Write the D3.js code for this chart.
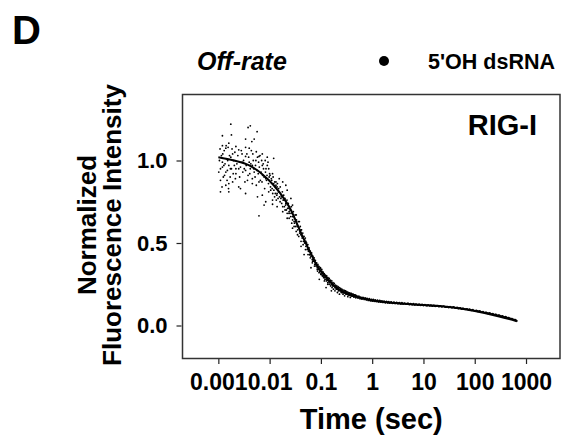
<!DOCTYPE html>
<html>
<head>
<meta charset="utf-8">
<script src="https://cdn.jsdelivr.net/npm/d3@7/dist/d3.min.js"></script>
<style>
body { margin: 0; background: #fff; }
svg text { font-family: "Liberation Sans", Arial, sans-serif; font-weight: bold; fill: #000; }
</style>
</head>
<body>
<svg width="566" height="446"></svg>
<script>
//////////// DATA ////////////

// axis ticks
var xTickValues = [0.001, 0.01, 0.1, 1, 10, 100, 1000];
var xTickLabels = ["0.001", "0.01", "0.1", "1", "10", "100", "1000"];
var yTickValues = [0, 0.5, 1];

// fitted off-rate curve, [time (sec), normalized intensity]
var fitCurve = [
  [0.001, 1.02], [0.002, 1.0], [0.004, 0.97], [0.007, 0.92], [0.012, 0.85],
  [0.02, 0.76], [0.026, 0.70], [0.035, 0.61], [0.047, 0.52], [0.065, 0.43],
  [0.087, 0.355], [0.12, 0.30], [0.158, 0.26], [0.25, 0.21], [0.39, 0.185],
  [0.7, 0.162], [1.7, 0.142], [5, 0.13], [35, 0.11], [100, 0.088],
  [300, 0.055], [660, 0.026]
];

// noisy early points (t < 0.01 s)
var earlyPoints = [
  [0.00175, 1.22], [0.0038, 1.2], [0.0042, 1.21], [0.0057, 1.175], [0.0012, 1.15],
  [0.0018, 1.155], [0.005, 1.13], [0.0034, 1.13], [0.0045, 1.115], [0.0016, 1.105],
  [0.0012, 1.09], [0.0022, 1.085], [0.0014, 1.075], [0.0025, 1.065], [0.004, 1.075],
  [0.0055, 1.053], [0.0072, 1.04], [0.009, 1.02], [0.012, 1.013], [0.0062, 1.025],
  [0.0034, 1.025], [0.0019, 1.04], [0.0029, 0.99], [0.0012, 0.99], [0.0011, 0.95],
  [0.0014, 0.93], [0.0022, 0.95], [0.0034, 0.94], [0.0046, 0.97], [0.0072, 0.97],
  [0.0096, 0.95], [0.0114, 0.92], [0.0154, 0.89], [0.018, 0.87], [0.0133, 0.87],
  [0.0084, 0.89], [0.0062, 0.87], [0.0046, 0.86], [0.0025, 0.84], [0.0016, 0.86],
  [0.0011, 0.81], [0.0016, 0.81], [0.0027, 0.83], [0.0034, 0.80], [0.0058, 0.78],
  [0.0072, 0.79], [0.0084, 0.75], [0.0096, 0.81], [0.014, 0.84], [0.0207, 0.85],
  [0.022, 0.82], [0.017, 0.78], [0.0114, 0.76], [0.0078, 0.73], [0.0062, 0.665],
  [0.0114, 0.735], [0.014, 0.72], [0.0207, 0.74], [0.026, 0.77], [0.028, 0.73],
  [0.00105, 1.0], [0.0011, 0.88], [0.00115, 1.03], [0.0012, 0.96], [0.00125, 0.9],
  [0.0013, 1.06], [0.00135, 0.98], [0.0014, 0.85], [0.00145, 1.01], [0.0015, 0.94],
  [0.00155, 1.08], [0.0016, 0.97], [0.0017, 0.9], [0.00175, 1.02], [0.0018, 0.95],
  [0.0019, 0.87], [0.002, 1.0], [0.0021, 1.05], [0.0022, 0.92], [0.0023, 0.98],
  [0.0024, 1.03], [0.0026, 0.9], [0.0027, 0.96], [0.0028, 1.06], [0.003, 0.93],
  [0.0031, 1.0], [0.0033, 0.87], [0.0035, 0.97], [0.0036, 1.04], [0.0038, 0.91],
  [0.004, 0.99], [0.0042, 0.95], [0.0044, 1.06], [0.0046, 0.89], [0.0048, 1.0],
  [0.005, 0.93], [0.0053, 0.97], [0.0055, 0.85], [0.0058, 1.02], [0.006, 0.92],
  [0.0063, 0.96], [0.0066, 0.88], [0.007, 1.0], [0.0073, 0.91], [0.0076, 0.95],
  [0.008, 0.83], [0.0083, 0.93], [0.0087, 0.88], [0.009, 0.97], [0.0095, 0.86],
  [0.00102, 0.93], [0.00108, 1.07], [0.00118, 0.84], [0.00122, 1.04], [0.00128, 0.97],
  [0.00132, 0.91], [0.00142, 1.09], [0.00148, 0.88], [0.00152, 1.0], [0.00158, 0.83],
  [0.00165, 1.03], [0.00172, 0.95], [0.00185, 1.07], [0.00195, 0.92], [0.00205, 0.97],
  [0.00215, 0.89], [0.0025, 0.95], [0.0029, 1.04], [0.0032, 0.95], [0.0034, 1.08],
  [0.0037, 0.88], [0.0039, 1.02], [0.0041, 0.92], [0.0043, 0.98], [0.0047, 1.04],
  [0.0049, 0.95], [0.0052, 0.9], [0.0054, 1.0], [0.0057, 0.94], [0.0061, 0.99],
  [0.0065, 1.03], [0.0068, 0.93], [0.0071, 0.87], [0.0075, 0.98], [0.0078, 0.9],
  [0.0082, 1.0], [0.0085, 0.95], [0.0089, 0.91], [0.0093, 0.99], [0.0098, 0.9]
];

// knee of the decay (0.01 - 0.5 s)
var kneePoints = [
  [0.018, 0.69], [0.024, 0.69], [0.033, 0.67], [0.022, 0.65], [0.030, 0.63],
  [0.038, 0.63], [0.028, 0.59], [0.041, 0.58], [0.035, 0.55], [0.044, 0.54],
  [0.051, 0.51], [0.041, 0.48], [0.055, 0.47], [0.060, 0.43], [0.047, 0.43],
  [0.069, 0.39], [0.080, 0.37], [0.064, 0.35], [0.086, 0.33], [0.1, 0.31],
  [0.093, 0.28], [0.117, 0.27], [0.136, 0.25], [0.126, 0.23], [0.17, 0.24],
  [0.16, 0.21],
  [0.01, 0.92], [0.0105, 0.82], [0.011, 0.88], [0.0115, 0.8], [0.012, 0.86],
  [0.0125, 0.78], [0.013, 0.84], [0.0135, 0.76], [0.014, 0.8], [0.015, 0.83],
  [0.016, 0.75], [0.017, 0.79], [0.018, 0.72], [0.019, 0.76], [0.02, 0.7],
  [0.021, 0.74], [0.022, 0.68], [0.023, 0.71], [0.024, 0.65], [0.025, 0.68],
  [0.027, 0.62], [0.028, 0.66], [0.03, 0.6], [0.032, 0.63], [0.033, 0.57],
  [0.035, 0.6], [0.037, 0.54], [0.039, 0.57], [0.041, 0.51], [0.043, 0.54],
  [0.045, 0.49], [0.048, 0.52], [0.05, 0.46], [0.053, 0.49], [0.056, 0.43],
  [0.058, 0.46], [0.062, 0.41], [0.065, 0.43], [0.068, 0.38], [0.072, 0.4],
  [0.075, 0.36], [0.078, 0.38],
  [0.0102, 0.91], [0.0104, 0.84], [0.0108, 0.89], [0.0112, 0.83], [0.0117, 0.9],
  [0.0121, 0.82], [0.0126, 0.87], [0.0129, 0.8], [0.0133, 0.85], [0.0138, 0.79],
  [0.0142, 0.86], [0.0146, 0.77], [0.0151, 0.81], [0.0156, 0.78], [0.0161, 0.84],
  [0.0166, 0.77], [0.0172, 0.74], [0.0177, 0.81], [0.0183, 0.76], [0.0188, 0.79],
  [0.0194, 0.72], [0.0199, 0.77], [0.0205, 0.73], [0.0212, 0.7], [0.0218, 0.76],
  [0.0224, 0.71], [0.0231, 0.74], [0.0238, 0.68], [0.0244, 0.72], [0.0251, 0.7],
  [0.0258, 0.66], [0.0266, 0.72], [0.0273, 0.68], [0.0281, 0.64], [0.029, 0.69],
  [0.0298, 0.66], [0.0306, 0.62], [0.0315, 0.67], [0.0324, 0.6], [0.0334, 0.64],
  [0.0343, 0.61], [0.0353, 0.58], [0.0363, 0.63], [0.0374, 0.59], [0.0385, 0.56],
  [0.0396, 0.6], [0.0407, 0.55], [0.0419, 0.58], [0.0431, 0.53], [0.0443, 0.56],
  [0.0456, 0.51], [0.0469, 0.54], [0.0482, 0.5], [0.0496, 0.53], [0.051, 0.48],
  [0.0525, 0.5], [0.054, 0.46], [0.0556, 0.49], [0.0572, 0.45], [0.0588, 0.47],
  [0.0605, 0.43], [0.0622, 0.45], [0.064, 0.42], [0.0659, 0.44], [0.0678, 0.4],
  [0.0697, 0.42], [0.0717, 0.39], [0.0738, 0.41], [0.0759, 0.37], [0.0781, 0.395],
  [0.0803, 0.36], [0.0826, 0.38], [0.085, 0.35], [0.0874, 0.37], [0.0899, 0.34],
  [0.0925, 0.355], [0.0952, 0.325], [0.0979, 0.345], [0.1007, 0.315], [0.1036, 0.33],
  [0.1066, 0.305], [0.1096, 0.325], [0.1128, 0.3], [0.116, 0.315], [0.1193, 0.29],
  [0.1228, 0.305], [0.1263, 0.28], [0.1299, 0.3], [0.1336, 0.275], [0.1375, 0.29],
  [0.1414, 0.265], [0.1455, 0.285], [0.1496, 0.26], [0.1539, 0.275], [0.1584, 0.25],
  [0.1629, 0.27], [0.1676, 0.245], [0.1724, 0.26], [0.1773, 0.24], [0.1824, 0.255],
  [0.1877, 0.23], [0.1931, 0.245], [0.1986, 0.225], [0.2043, 0.24], [0.2102, 0.22],
  [0.2162, 0.235], [0.2224, 0.215], [0.2288, 0.23], [0.2354, 0.21], [0.2421, 0.225],
  [0.2491, 0.205], [0.2562, 0.22], [0.2636, 0.2], [0.2712, 0.215], [0.279, 0.198],
  [0.287, 0.212], [0.2952, 0.195], [0.3037, 0.208], [0.3124, 0.19], [0.3214, 0.205],
  [0.3306, 0.188], [0.3401, 0.2], [0.3499, 0.185], [0.36, 0.197], [0.3703, 0.182],
  [0.381, 0.194], [0.3919, 0.18], [0.4032, 0.19], [0.4147, 0.178], [0.4267, 0.188],
  [0.4389, 0.176], [0.4515, 0.186], [0.4645, 0.174], [0.4779, 0.184]
];

// tighter late points (t > 0.08 s)
var latePoints = [
  [0.082, 0.37], [0.085, 0.34], [0.09, 0.36], [0.092, 0.32], [0.095, 0.33],
  [0.098, 0.35], [0.1, 0.31], [0.104, 0.34], [0.107, 0.30], [0.11, 0.32],
  [0.113, 0.29], [0.117, 0.31], [0.12, 0.28], [0.124, 0.30], [0.128, 0.27],
  [0.132, 0.29], [0.136, 0.26], [0.14, 0.28], [0.145, 0.25], [0.15, 0.27],
  [0.155, 0.24], [0.16, 0.26], [0.165, 0.23], [0.17, 0.25], [0.176, 0.22],
  [0.182, 0.24], [0.188, 0.21], [0.195, 0.235], [0.2, 0.22], [0.21, 0.2],
  [0.215, 0.23], [0.22, 0.21], [0.23, 0.19], [0.24, 0.22], [0.25, 0.2],
  [0.26, 0.215], [0.27, 0.19], [0.28, 0.205], [0.29, 0.18], [0.3, 0.21],
  [0.31, 0.19], [0.32, 0.2], [0.335, 0.175], [0.35, 0.195], [0.36, 0.185],
  [0.375, 0.17], [0.39, 0.195], [0.4, 0.18], [0.42, 0.19], [0.44, 0.172],
  [0.46, 0.185], [0.48, 0.168], [0.5, 0.18],
  [0.52, 0.17], [0.55, 0.178], [0.58, 0.162], [0.6, 0.172], [0.63, 0.16],
  [0.66, 0.17], [0.7, 0.158], [0.73, 0.168], [0.77, 0.155], [0.8, 0.163],
  [0.84, 0.152], [0.88, 0.162], [0.92, 0.15], [0.96, 0.158], [1.0, 0.148],
  [1.05, 0.158], [1.1, 0.147], [1.15, 0.155], [1.2, 0.145], [1.27, 0.153],
  [1.33, 0.143], [1.4, 0.152], [1.47, 0.142], [1.55, 0.149], [1.62, 0.14],
  [1.7, 0.148], [1.8, 0.138], [1.9, 0.146], [2.0, 0.137], [2.1, 0.145],
  [2.2, 0.136], [2.35, 0.143], [2.5, 0.135], [2.65, 0.142], [2.8, 0.133],
  [3.0, 0.14], [3.2, 0.132], [3.4, 0.139], [3.6, 0.131], [3.8, 0.138],
  [4.0, 0.13], [4.3, 0.136], [4.6, 0.129], [5.0, 0.135],
  [0.51, 0.176], [0.53, 0.166], [0.56, 0.172], [0.59, 0.168], [0.62, 0.165],
  [0.65, 0.163], [0.68, 0.167], [0.72, 0.161], [0.75, 0.16], [0.79, 0.165],
  [0.82, 0.158], [0.86, 0.157], [0.9, 0.155], [0.94, 0.153], [0.98, 0.156],
  [1.02, 0.151], [1.08, 0.152], [1.13, 0.15], [1.18, 0.149], [1.24, 0.15],
  [1.3, 0.147], [1.37, 0.146], [1.44, 0.147], [1.51, 0.145], [1.58, 0.144],
  [1.66, 0.143], [1.75, 0.144], [1.85, 0.141], [1.95, 0.142], [2.05, 0.14],
  [2.15, 0.139], [2.27, 0.14], [2.42, 0.138], [2.57, 0.137], [2.72, 0.138],
  [2.9, 0.136], [3.1, 0.135], [3.3, 0.136], [3.5, 0.134], [3.7, 0.133],
  [3.9, 0.134], [4.15, 0.132], [4.45, 0.131], [4.8, 0.132], [5.15, 0.13],
  [5.45, 0.129], [5.8, 0.13], [6.2, 0.128], [6.6, 0.127], [7.0, 0.128],
  [7.5, 0.126], [8.0, 0.125], [8.5, 0.126], [9.1, 0.124], [9.7, 0.123],
  [10.3, 0.124], [11.1, 0.122], [11.9, 0.121], [12.7, 0.122], [13.6, 0.12],
  [14.5, 0.119], [15.5, 0.12], [16.5, 0.118], [17.7, 0.117], [19.2, 0.118],
  [5.3, 0.127], [5.6, 0.133], [6.0, 0.126], [6.4, 0.132], [6.8, 0.125],
  [7.2, 0.13], [7.7, 0.124], [8.2, 0.129], [8.8, 0.122], [9.4, 0.128],
  [10, 0.121], [10.7, 0.127], [11.5, 0.12], [12.3, 0.125], [13.2, 0.119],
  [14, 0.124], [15, 0.117], [16, 0.122], [17, 0.116], [18.5, 0.121],
  [20, 0.114], [21.5, 0.119], [23, 0.113], [25, 0.117], [27, 0.111],
  [29, 0.115], [31, 0.109], [33, 0.114], [36, 0.107], [39, 0.112],
  [42, 0.105], [45, 0.109], [48, 0.103], [52, 0.107], [56, 0.1],
  [60, 0.104], [65, 0.098], [70, 0.101], [75, 0.095], [80, 0.099],
  [86, 0.092], [92, 0.096], [100, 0.089], [108, 0.092], [116, 0.085],
  [125, 0.088], [134, 0.081], [145, 0.084], [156, 0.077], [168, 0.08],
  [180, 0.073], [195, 0.076], [210, 0.069], [225, 0.072], [242, 0.065],
  [260, 0.067], [280, 0.06], [300, 0.063], [322, 0.056], [346, 0.058],
  [372, 0.051], [400, 0.053], [430, 0.046], [462, 0.048], [497, 0.041],
  [534, 0.042], [574, 0.035], [617, 0.036], [650, 0.03], [660, 0.028],
  [20.7, 0.116], [22.2, 0.115], [24, 0.116], [26, 0.113], [28, 0.112],
  [30, 0.113], [32, 0.111], [34.5, 0.11], [37.5, 0.111], [40.5, 0.108],
  [43.5, 0.107], [46.5, 0.108], [50, 0.105], [54, 0.103], [58, 0.103],
  [62, 0.101], [67, 0.099], [72, 0.099], [77, 0.097], [83, 0.095],
  [89, 0.094], [96, 0.092], [104, 0.09], [112, 0.088], [120, 0.087],
  [129, 0.085], [139, 0.083], [150, 0.081], [162, 0.079], [174, 0.077],
  [187, 0.075], [202, 0.073], [217, 0.071], [233, 0.069], [251, 0.067],
  [270, 0.064], [290, 0.062], [311, 0.06], [334, 0.057], [359, 0.055],
  [386, 0.052], [415, 0.05], [446, 0.047], [480, 0.045], [516, 0.042],
  [555, 0.039], [595, 0.035], [635, 0.032]
];

//////////// SETUP ////////////

var svg = d3.select("svg");

var plotLeft = 182.5, plotRight = 560, plotTop = 94.5, plotBottom = 358.5;

var x = d3.scaleLog()
    .domain([0.0002, 4600])
    .range([plotLeft, plotRight]);

var y = d3.scaleLinear()
    .domain([-0.2, 1.4])
    .range([plotBottom, plotTop]);

//////////// AXES ////////////

var xAxis = svg.append("g")
    .attr("transform", "translate(0," + (plotBottom + 0.5) + ")")
    .call(d3.axisBottom(x)
        .tickValues(xTickValues)
        .tickFormat(function(d, i) { return xTickLabels[i]; })
        .tickSize(5)
        .tickPadding(10));
xAxis.select(".domain").remove();
xAxis.selectAll("line").attr("stroke", "#222").attr("stroke-width", 1.2);
xAxis.selectAll("text").style("font-size", "23px").attr("fill", "#000");

var yAxis = svg.append("g")
    .attr("transform", "translate(" + (plotLeft - 1) + ",0)")
    .call(d3.axisLeft(y)
        .tickValues(yTickValues)
        .tickFormat(d3.format(".1f"))
        .tickSize(5)
        .tickPadding(9));
yAxis.select(".domain").remove();
yAxis.selectAll("line").attr("stroke", "#222").attr("stroke-width", 1.2);
yAxis.selectAll("text").style("font-size", "22px").attr("fill", "#000");

// frame
svg.append("rect")
    .attr("x", plotLeft)
    .attr("y", plotTop)
    .attr("width", plotRight - plotLeft)
    .attr("height", plotBottom - plotTop)
    .attr("fill", "none")
    .attr("stroke", "#333")
    .attr("stroke-width", 1.5);

//////////// DATA MARKS ////////////

svg.append("g")
    .selectAll("circle")
    .data(earlyPoints.concat(kneePoints, latePoints))
    .enter().append("circle")
    .attr("cx", function(d) { return x(d[0]); })
    .attr("cy", function(d) { return y(d[1]); })
    .attr("r", 0.9)
    .attr("fill", "#000");

var line = d3.line()
    .x(function(d) { return x(d[0]); })
    .y(function(d) { return y(d[1]); })
    .curve(d3.curveMonotoneX);

svg.append("path")
    .datum(fitCurve)
    .attr("d", line)
    .attr("fill", "none")
    .attr("stroke", "#000")
    .attr("stroke-width", 2);

//////////// LABELS ////////////

svg.append("text")
    .attr("x", 12).attr("y", 44)
    .style("font-size", "40px")
    .text("D");

svg.append("text")
    .attr("x", 197).attr("y", 70)
    .style("font-size", "25px")
    .style("font-style", "italic")
    .text("Off-rate");

svg.append("circle")
    .attr("cx", 384).attr("cy", 61)
    .attr("r", 5)
    .attr("fill", "#000");

svg.append("text")
    .attr("x", 428).attr("y", 69)
    .style("font-size", "21.5px")
    .text("5'OH dsRNA");

svg.append("text")
    .attr("x", 537).attr("y", 135)
    .attr("text-anchor", "end")
    .style("font-size", "29px")
    .text("RIG-I");

svg.append("text")
    .attr("x", (plotLeft + plotRight) / 2).attr("y", 429)
    .attr("text-anchor", "middle")
    .style("font-size", "29px")
    .text("Time (sec)");

// y axis title, two lines
svg.append("text")
    .attr("transform", "translate(96," + 225 + ") rotate(-90)")
    .attr("text-anchor", "middle")
    .style("font-size", "26px")
    .text("Normalized");

svg.append("text")
    .attr("transform", "translate(121," + 225 + ") rotate(-90)")
    .attr("text-anchor", "middle")
    .style("font-size", "26px")
    .text("Fluorescence Intensity");
</script>
</body>
</html>
